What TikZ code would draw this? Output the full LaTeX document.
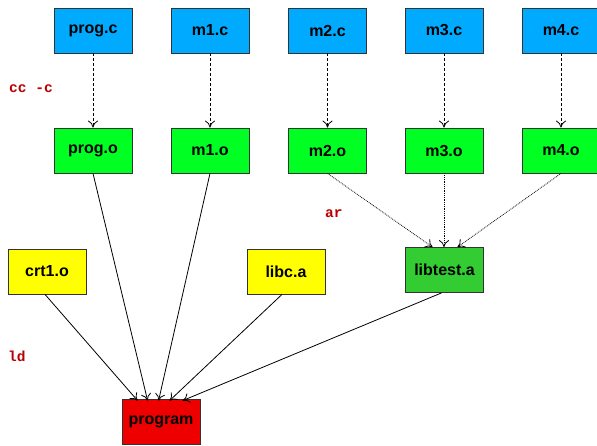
\documentclass[tikz,border=0pt]{standalone}
\usepackage{fontspec}
\setmainfont{Liberation Sans}
\setmonofont{Liberation Mono}
\usetikzlibrary{arrows.meta}
\definecolor{srcblue}{HTML}{00AAFF}
\definecolor{objgreen}{HTML}{00FF22}
\definecolor{libgreen}{HTML}{33CC33}
\definecolor{ylw}{HTML}{FFFF00}
\definecolor{prgred}{HTML}{EE0000}
\definecolor{lblred}{HTML}{B80000}
\tikzset{
  filebox/.style={draw=black!80, line width=0.8pt, minimum width=78pt, minimum height=45pt, inner sep=0pt, font=\bfseries\fontsize{16}{18}\selectfont},
  srcbox/.style={filebox, fill=srcblue},
  objbox/.style={filebox, fill=objgreen},
  libbox/.style={filebox, fill=libgreen},
  ylwbox/.style={filebox, fill=ylw},
  prgbox/.style={filebox, fill=prgred},
  steplabel/.style={text=lblred, font=\ttfamily\bfseries\fontsize{14.5}{16}\selectfont, inner sep=0pt},
  arr/.style={-{To[length=7pt,width=10pt]}, line width=0.8pt},
  ccedge/.style={arr, densely dashed},
  aredge/.style={arr, densely dotted},
  ldedge/.style={arr},
}
\begin{document}
\begin{tikzpicture}[x=1pt,y=-1pt]
\useasboundingbox (0,0) rectangle (597,445);
\clip (0,0) rectangle (597,445);
\node[srcbox] (progc) at (93,30.5) {prog.c};
\node[srcbox] (m1c) at (210,30.5) {m1.c};
\node[srcbox] (m2c) at (327.5,30.5) {m2.c};
\node[srcbox] (m3c) at (444,30.5) {m3.c};
\node[srcbox] (m4c) at (561,30.5) {m4.c};
\node[objbox] (progo) at (93,150.5) {prog.o};
\node[objbox] (m1o) at (210,150.5) {m1.o};
\node[objbox] (m2o) at (327.5,150.5) {m2.o};
\node[objbox] (m3o) at (444,150.5) {m3.o};
\node[objbox] (m4o) at (561,150.5) {m4.o};
\node[ylwbox] (crt) at (47,271.5) {crt1.o};
\node[ylwbox] (libc) at (286,271.5) {libc.a};
\node[libbox] (libtest) at (444.5,270) {libtest.a};
\node[prgbox] (program) at (161,421.5) {program};
\node[steplabel, anchor=west] (cclbl) at (9,89) {cc -c};
\node[steplabel, anchor=west] (arlbl) at (325,214) {ar};
\node[steplabel, anchor=west] (ldlbl) at (8,356) {ld};
\foreach \s/\t in {progc/progo, m1c/m1o, m2c/m2o, m3c/m3o, m4c/m4o}
  \draw[ccedge] (\s.south) -- (\t.north);
\draw[aredge] (m2o.south) -- ([xshift=-12pt]libtest.north);
\draw[aredge] (m3o.south) -- ([xshift=-0.5pt]libtest.north);
\draw[aredge] (m4o.south) -- ([xshift=13pt]libtest.north);
\draw[ldedge] ([xshift=-2pt]crt.south) -- ([xshift=16pt,yshift=-2pt]program.north west);
\draw[ldedge] (progo.south) -- ([xshift=26pt,yshift=-2pt]program.north west);
\draw[ldedge] (m1o.south) -- ([xshift=37pt,yshift=-2pt]program.north west);
\draw[ldedge] ([xshift=-4pt]libc.south) -- ([xshift=48pt,yshift=-2pt]program.north west);
\draw[ldedge] ([xshift=-3pt]libtest.south) -- ([xshift=61pt,yshift=-2pt]program.north west);
\end{tikzpicture}
\end{document}
